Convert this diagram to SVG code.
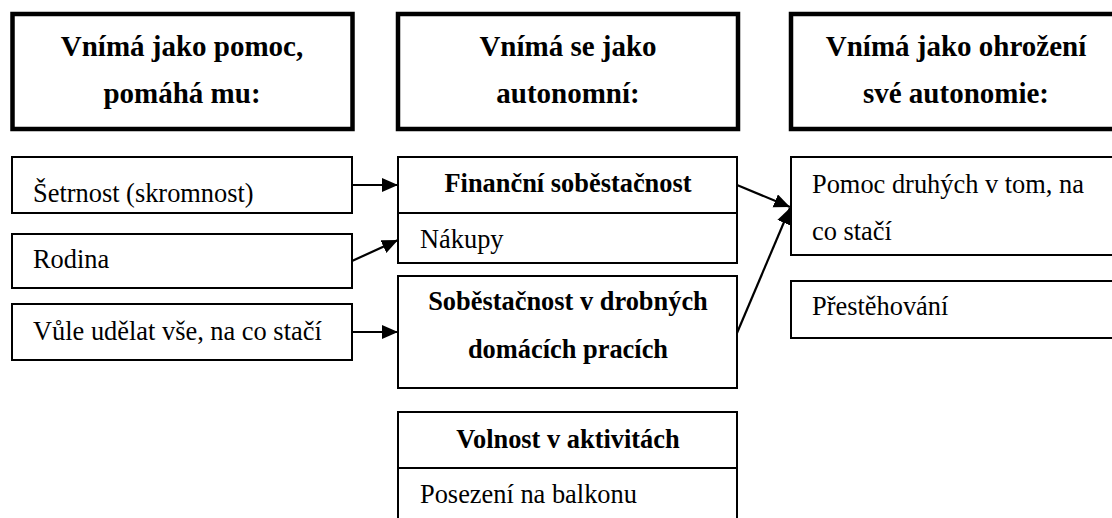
<svg xmlns="http://www.w3.org/2000/svg" width="1112" height="518" viewBox="0 0 1112 518" font-family="Liberation Serif, serif">
  <style>
    .head { fill: #fff; stroke: #000; stroke-width: 4.5; }
    .box { fill: #fff; stroke: #000; stroke-width: 2; }
    .div { stroke: #000; stroke-width: 2; }
    text { font-family: 'Liberation Serif', serif; fill: #000; }
    .ht { font-weight: bold; font-size: 29px; text-anchor: middle; }
    .bt { font-weight: bold; font-size: 26.4px; text-anchor: middle; }
    .t { font-size: 26.4px; }
    .link { stroke: #000; stroke-width: 2.2; fill: none; marker-end: url(#arrow); }
  </style>
  <defs>
    <marker id="arrow" markerUnits="userSpaceOnUse" markerWidth="18" markerHeight="16" refX="16" refY="7" orient="auto">
      <path d="M0,0 L16,7 L0,14 Z" fill="#000"/>
    </marker>
  </defs>
  <rect width="1112" height="518" fill="#fff"/>

  <!-- column headers -->
  <g id="head-help">
    <rect class="head" x="12.5" y="14" width="340" height="115"/>
    <text class="ht" x="182" y="56">Vnímá jako pomoc,</text>
    <text class="ht" x="182" y="103">pomáhá mu:</text>
  </g>
  <g id="head-autonomous">
    <rect class="head" x="398" y="14" width="340" height="115"/>
    <text class="ht" x="568" y="56">Vnímá se jako</text>
    <text class="ht" x="568" y="103">autonomní:</text>
  </g>
  <g id="head-threat">
    <rect class="head" x="791" y="14" width="340" height="115"/>
    <text class="ht" x="956" y="56">Vnímá jako ohrožení</text>
    <text class="ht" x="956" y="103">své autonomie:</text>
  </g>

  <!-- left column -->
  <g id="thrift">
    <rect class="box" x="12" y="157" width="340" height="56"/>
    <text class="t" x="33" y="202">Šetrnost (skromnost)</text>
  </g>
  <g id="family">
    <rect class="box" x="12" y="234" width="340" height="54"/>
    <text class="t" x="33" y="268">Rodina</text>
  </g>
  <g id="will">
    <rect class="box" x="12" y="304" width="340" height="56"/>
    <text class="t" x="33" y="340">Vůle udělat vše, na co stačí</text>
  </g>

  <!-- middle column -->
  <g id="financial">
    <rect class="box" x="398" y="157" width="339" height="106"/>
    <line class="div" x1="398" y1="213" x2="737" y2="213"/>
    <text class="bt" x="568" y="192">Finanční soběstačnost</text>
    <text class="t" x="420" y="248">Nákupy</text>
  </g>
  <g id="housework">
    <rect class="box" x="398" y="276" width="339" height="112"/>
    <text class="bt" x="568" y="310">Soběstačnost v drobných</text>
    <text class="bt" x="568" y="358">domácích pracích</text>
  </g>
  <g id="activities">
    <rect class="box" x="398" y="412" width="339" height="120"/>
    <line class="div" x1="398" y1="468" x2="737" y2="468"/>
    <text class="bt" x="568" y="448">Volnost v aktivitách</text>
    <text class="t" x="420" y="503">Posezení na balkonu</text>
  </g>

  <!-- right column -->
  <g id="others-help">
    <rect class="box" x="791" y="157" width="340" height="98"/>
    <text class="t" x="812" y="193">Pomoc druhých v tom, na</text>
    <text class="t" x="812" y="240">co stačí</text>
  </g>
  <g id="moving">
    <rect class="box" x="791" y="281" width="340" height="57"/>
    <text class="t" x="812" y="315">Přestěhování</text>
  </g>

  <!-- connectors -->
  <g id="connectors">
    <line class="link" x1="352" y1="185" x2="398" y2="185"/>
    <line class="link" x1="352" y1="261" x2="398" y2="240"/>
    <line class="link" x1="352" y1="332" x2="398" y2="332"/>
    <line class="link" x1="737" y1="185" x2="790" y2="207"/>
    <line class="link" x1="737" y1="333" x2="790" y2="208"/>
  </g>
</svg>
